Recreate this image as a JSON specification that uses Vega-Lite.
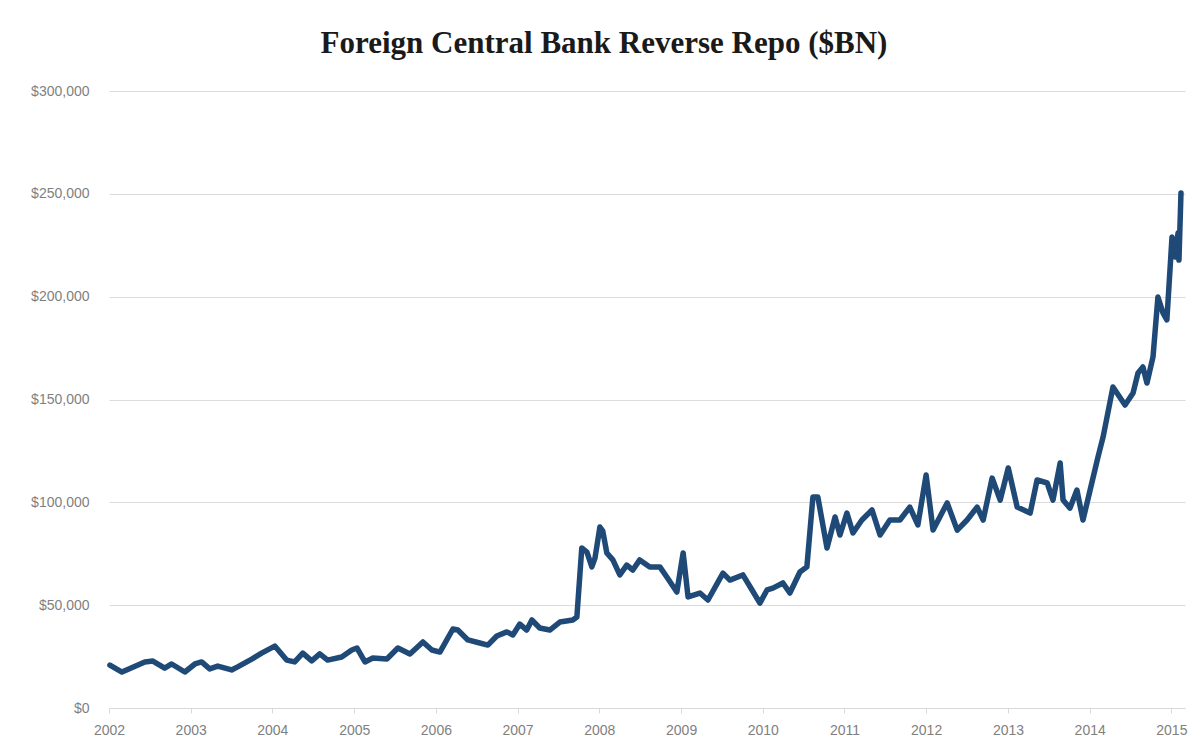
{
  "$schema": "https://vega.github.io/schema/vega-lite/v6.json",
  "width": 1076,
  "height": 617,
  "autosize": {"type": "none"},
  "padding": {"left": 109, "top": 91, "right": 14, "bottom": 46},
  "background": "white",
  "title": {
    "text": "Foreign Central Bank Reverse Repo ($BN)",
    "font": "Liberation Serif",
    "fontSize": 31,
    "fontWeight": "bold",
    "color": "#1a1a1a",
    "anchor": "middle",
    "dx": -43,
    "offset": 24
  },
  "config": {
    "view": {"stroke": null},
    "axis": {
      "labelFont": "Liberation Sans",
      "labelFontSize": 14,
      "labelColor": "#7f7f7f",
      "domainColor": "#d9d9d9",
      "tickColor": "#d9d9d9",
      "gridColor": "#dcdcdc",
      "title": null
    }
  },
  "data": {
    "values": [
      {"date": "2002-01-05", "value": 20900},
      {"date": "2002-02-28", "value": 17500},
      {"date": "2002-06-10", "value": 22400},
      {"date": "2002-07-16", "value": 22800},
      {"date": "2002-09-07", "value": 19400},
      {"date": "2002-10-08", "value": 21400},
      {"date": "2002-12-06", "value": 17500},
      {"date": "2003-01-20", "value": 21400},
      {"date": "2003-02-19", "value": 22400},
      {"date": "2003-03-27", "value": 19000},
      {"date": "2003-05-02", "value": 20400},
      {"date": "2003-07-03", "value": 18500},
      {"date": "2003-07-30", "value": 20000},
      {"date": "2003-10-01", "value": 23800},
      {"date": "2003-11-14", "value": 26700},
      {"date": "2004-01-12", "value": 30100},
      {"date": "2004-03-05", "value": 23300},
      {"date": "2004-04-10", "value": 22400},
      {"date": "2004-05-16", "value": 26700},
      {"date": "2004-06-25", "value": 22900},
      {"date": "2004-07-31", "value": 26300},
      {"date": "2004-09-04", "value": 23300},
      {"date": "2004-11-06", "value": 24800},
      {"date": "2004-12-21", "value": 28200},
      {"date": "2005-01-13", "value": 29200},
      {"date": "2005-02-18", "value": 22400},
      {"date": "2005-03-25", "value": 24300},
      {"date": "2005-05-27", "value": 23800},
      {"date": "2005-07-15", "value": 29200},
      {"date": "2005-09-07", "value": 26300},
      {"date": "2005-11-04", "value": 32100},
      {"date": "2005-12-14", "value": 28200},
      {"date": "2006-01-19", "value": 27200},
      {"date": "2006-03-18", "value": 38400},
      {"date": "2006-04-09", "value": 37900},
      {"date": "2006-05-24", "value": 33100},
      {"date": "2006-07-16", "value": 31600},
      {"date": "2006-08-21", "value": 30600},
      {"date": "2006-09-30", "value": 35000},
      {"date": "2006-11-14", "value": 37000},
      {"date": "2006-12-11", "value": 35500},
      {"date": "2007-01-11", "value": 40800},
      {"date": "2007-02-11", "value": 37900},
      {"date": "2007-03-06", "value": 42800},
      {"date": "2007-04-10", "value": 38900},
      {"date": "2007-05-25", "value": 37900},
      {"date": "2007-07-09", "value": 41800},
      {"date": "2007-09-05", "value": 42800},
      {"date": "2007-09-23", "value": 44200},
      {"date": "2007-10-15", "value": 77800},
      {"date": "2007-11-07", "value": 75800},
      {"date": "2007-11-29", "value": 68600},
      {"date": "2007-12-13", "value": 72900},
      {"date": "2008-01-04", "value": 88000},
      {"date": "2008-01-17", "value": 86000},
      {"date": "2008-02-04", "value": 75400},
      {"date": "2008-03-02", "value": 72000},
      {"date": "2008-04-02", "value": 64700},
      {"date": "2008-05-03", "value": 69500},
      {"date": "2008-05-30", "value": 67100},
      {"date": "2008-06-30", "value": 72000},
      {"date": "2008-08-14", "value": 68600},
      {"date": "2008-09-28", "value": 68600},
      {"date": "2008-10-29", "value": 63700},
      {"date": "2008-12-13", "value": 56400},
      {"date": "2009-01-10", "value": 75400},
      {"date": "2009-02-01", "value": 54000},
      {"date": "2009-03-26", "value": 55900},
      {"date": "2009-05-01", "value": 52500},
      {"date": "2009-07-07", "value": 65600},
      {"date": "2009-08-07", "value": 62200},
      {"date": "2009-10-04", "value": 64700},
      {"date": "2009-11-14", "value": 57400},
      {"date": "2009-12-19", "value": 51000},
      {"date": "2010-01-20", "value": 57400},
      {"date": "2010-02-15", "value": 58300},
      {"date": "2010-04-01", "value": 60800},
      {"date": "2010-05-02", "value": 55900},
      {"date": "2010-06-16", "value": 66100},
      {"date": "2010-07-17", "value": 68600},
      {"date": "2010-08-13", "value": 102600},
      {"date": "2010-09-04", "value": 102600},
      {"date": "2010-10-15", "value": 77800},
      {"date": "2010-11-20", "value": 92900},
      {"date": "2010-12-12", "value": 84100},
      {"date": "2011-01-12", "value": 94800},
      {"date": "2011-02-08", "value": 85100},
      {"date": "2011-03-20", "value": 91400},
      {"date": "2011-05-04", "value": 96300},
      {"date": "2011-06-09", "value": 84100},
      {"date": "2011-07-23", "value": 91400},
      {"date": "2011-09-06", "value": 91400},
      {"date": "2011-10-20", "value": 97700},
      {"date": "2011-11-25", "value": 89000},
      {"date": "2012-01-01", "value": 113300},
      {"date": "2012-02-01", "value": 86500},
      {"date": "2012-04-04", "value": 99700},
      {"date": "2012-05-19", "value": 86500},
      {"date": "2012-07-02", "value": 91400},
      {"date": "2012-08-16", "value": 97700},
      {"date": "2012-09-12", "value": 91400},
      {"date": "2012-10-22", "value": 111800},
      {"date": "2012-11-27", "value": 101100},
      {"date": "2013-01-02", "value": 116700},
      {"date": "2013-02-11", "value": 97700},
      {"date": "2013-04-10", "value": 94800},
      {"date": "2013-05-11", "value": 110900},
      {"date": "2013-06-25", "value": 109400},
      {"date": "2013-07-21", "value": 101100},
      {"date": "2013-08-22", "value": 119100},
      {"date": "2013-09-04", "value": 101100},
      {"date": "2013-10-05", "value": 97200},
      {"date": "2013-11-05", "value": 106000},
      {"date": "2013-12-02", "value": 91400},
      {"date": "2014-01-03", "value": 106000},
      {"date": "2014-02-07", "value": 122000},
      {"date": "2014-03-02", "value": 131800},
      {"date": "2014-04-15", "value": 156100},
      {"date": "2014-05-03", "value": 153200},
      {"date": "2014-06-08", "value": 147300},
      {"date": "2014-07-14", "value": 153200},
      {"date": "2014-08-05", "value": 162900},
      {"date": "2014-08-27", "value": 165800},
      {"date": "2014-09-14", "value": 158000},
      {"date": "2014-10-11", "value": 170700},
      {"date": "2014-11-02", "value": 199800},
      {"date": "2014-11-25", "value": 192000},
      {"date": "2014-12-12", "value": 188700},
      {"date": "2015-01-04", "value": 229000},
      {"date": "2015-01-17", "value": 219300},
      {"date": "2015-01-31", "value": 231000},
      {"date": "2015-02-04", "value": 217800},
      {"date": "2015-02-13", "value": 250400}
    ]
  },
  "mark": {"type": "line", "color": "#1f4a78", "strokeWidth": 5.5, "strokeJoin": "round", "strokeCap": "round"},
  "encoding": {
    "x": {
      "field": "date",
      "type": "temporal",
      "scale": {"domain": ["2002-01-01", "2015-03-03"]},
      "axis": {
        "format": "%Y",
        "tickCount": {"interval": "year", "step": 1},
        "grid": false,
        "tickSize": 5,
        "labelPadding": 10,
        "labelFlush": false,
        "labelOverlap": false
      }
    },
    "y": {
      "field": "value",
      "type": "quantitative",
      "scale": {"domain": [0, 300000], "nice": false},
      "axis": {
        "format": "$,.0f",
        "values": [0, 50000, 100000, 150000, 200000, 250000, 300000],
        "domain": false,
        "ticks": false,
        "labelPadding": 20,
        "grid": true
      }
    }
  }
}
